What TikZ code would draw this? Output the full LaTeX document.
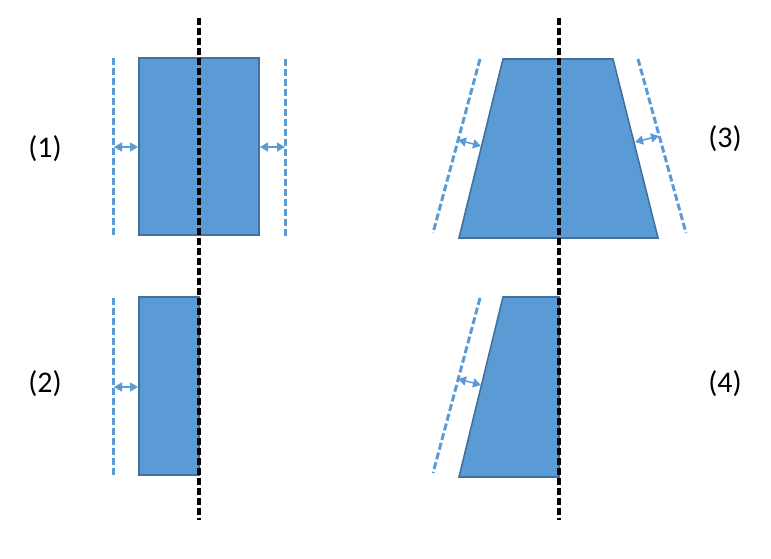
\documentclass[tikz,border=0pt]{standalone}
\usepackage{fontspec}
\setmainfont{Carlito}
\usetikzlibrary{arrows.meta}
\definecolor{partfill}{HTML}{5B9BD5}
\definecolor{partedge}{HTML}{41719C}
\tikzset{
  part/.style={fill=partfill, draw=partedge, line width=1.6pt},
  cutline/.style={black, line width=3.4pt, dash pattern=on 7pt off 3pt},
  offsetline/.style={partfill, line width=3pt, dash pattern=on 7pt off 3pt},
  gap/.style={partfill, line width=1.5pt, {Triangle[length=8pt,width=9pt]}-{Triangle[length=8pt,width=9pt]}},
  tag/.style={font=\fontsize{30}{34}\selectfont}
}
\begin{document}
\begin{tikzpicture}[x=1pt, y=-1pt]
  \useasboundingbox (0,0) rectangle (771,559);

  % (1) full rectangle
  \draw[part] (139,58) rectangle (259,235);
  \draw[offsetline] (113.5,58) -- (113.5,236);
  \draw[offsetline] (285.5,59) -- (285.5,237);
  \coordinate (o1l) at (114,147);
  \coordinate (e1l) at (138,147);
  \coordinate (e1r) at (260,147);
  \coordinate (o1r) at (285,147);
  \draw[gap] (o1l) -- (e1l);
  \draw[gap] (e1r) -- (o1r);
  \node[tag] (t1) at (45,149) {(1)};

  % (2) half rectangle
  \draw[part] (139,297) rectangle (199,475);
  \draw[offsetline] (113.5,298) -- (113.5,475);
  \coordinate (o2l) at (114,387);
  \coordinate (e2l) at (138,387);
  \draw[gap] (o2l) -- (e2l);
  \node[tag] (t2) at (45,384) {(2)};

  % (3) full trapezoid
  \draw[part] (503,59) -- (613,59) -- (658,238) -- (459,238) -- cycle;
  \draw[offsetline] (480,59) -- (433,233);
  \draw[offsetline] (638,59) -- (686,233);
  \coordinate (o3l) at (458,140);
  \coordinate (e3l) at (481,146);
  \coordinate (e3r) at (635,142);
  \coordinate (o3r) at (659,136);
  \draw[gap] (o3l) -- (e3l);
  \draw[gap] (e3r) -- (o3r);
  \node[tag] (t3) at (725,139) {(3)};

  % (4) half trapezoid
  \draw[part] (503,297) -- (559,297) -- (559,477) -- (459,477) -- cycle;
  \draw[offsetline] (480,298) -- (433,473);
  \coordinate (o4l) at (458,379);
  \coordinate (e4l) at (481,385);
  \draw[gap] (o4l) -- (e4l);
  \node[tag] (t4) at (725,384) {(4)};

  % symmetry axes
  \draw[cutline] (199,18) -- (199,520);
  \draw[cutline] (559,18) -- (559,520);
\end{tikzpicture}
\end{document}
